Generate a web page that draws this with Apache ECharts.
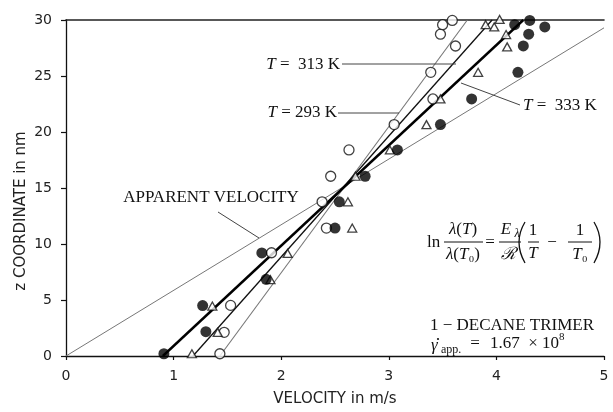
<!DOCTYPE html>
<html><head><meta charset="utf-8">
<script src="https://cdn.jsdelivr.net/npm/echarts@6/dist/echarts.min.js"></script>
<style>html,body{margin:0;padding:0;background:#fff}#c{width:613px;height:412px}</style>
</head><body><div id="c"></div>
<script>
// ---- data (velocity in m/s, z in nm) ----
const xTicks = [0, 1, 2, 3, 4, 5];
const yTicks = [0, 5, 10, 15, 20, 25, 30];

// T = 333 K (filled circles)
const filledV = [0.91, 1.30, 1.27, 1.86, 1.82, 2.50, 2.54, 2.78, 3.08, 3.48, 3.77, 4.20, 4.25, 4.30, 4.45, 4.31, 4.17];
const filledZ = [0.2, 2.17, 4.5, 6.85, 9.2, 11.42, 13.77, 16.05, 18.4, 20.66, 22.95, 25.33, 27.68, 28.73, 29.38, 29.96, 29.58];
// T = 293 K (open circles)
const openV = [1.43, 1.47, 1.53, 1.91, 2.42, 2.38, 2.46, 2.63, 3.05, 3.41, 3.39, 3.62, 3.48, 3.50, 3.59];
const openZ = [0.2, 2.11, 4.52, 9.22, 11.42, 13.77, 16.05, 18.4, 20.66, 22.95, 25.33, 27.68, 28.73, 29.58, 29.96];
// T = 313 K (triangles)
const triV = [1.17, 1.41, 1.36, 1.90, 2.06, 2.66, 2.62, 2.69, 3.01, 3.35, 3.48, 3.83, 4.10, 4.09, 3.98, 3.90, 4.03];
const triZ = [0.2, 2.11, 4.46, 6.81, 9.16, 11.42, 13.77, 16.05, 18.4, 20.66, 22.95, 25.33, 27.6, 28.7, 29.38, 29.58, 30.05];

// fitted lines
const fitZ = [0, 30];
const fit293V = [1.43, 3.73];
const fit313V = [1.18, 3.96];
const fit333V = [0.90, 4.25];
const apparentV = [0, 5];
const apparentZ = [0, 29.3];

const zip = (a, b) => a.map((v, i) => [v, b[i]]);
const SERIF = '"Liberation Serif", "DejaVu Serif", serif';
const SANS = '"DejaVu Sans", Verdana, sans-serif';

const chart = echarts.init(document.getElementById('c'), null, {renderer: 'canvas'});

function t(x, y, text, o) {
  o = o || {};
  return {
    type: 'text', x: x, y: y, z: 100,
    style: Object.assign({
      text: text, fill: '#111', fontSize: o.fs || 17, fontFamily: SERIF,
      fontStyle: o.it ? 'italic' : 'normal',
      align: o.align || 'left', verticalAlign: 'middle', rich: o.rich
    }, o.style || {})
  };
}
function ln(x1, y1, x2, y2, w, c) {
  return {type: 'line', z: 100, shape: {x1: x1, y1: y1, x2: x2, y2: y2},
    style: {stroke: c || '#444', lineWidth: w || 1}};
}
const rI = {i: {fontStyle: 'italic', fontSize: 17, fontFamily: SERIF, fill: '#111'},
            n: {fontSize: 17, fontFamily: SERIF, fill: '#111'}};

const graphics = [
  // y axis name
  {type: 'text', x: 21, y: 211, rotation: Math.PI / 2, z: 100,
   style: {text: 'z COORDINATE in nm', fontSize: 15, fontFamily: SANS, fill: '#222', align: 'center', verticalAlign: 'middle'}},
  // temperature labels + leaders
  t(340, 65, '{i|T}{n| =  313 K}', {align: 'right', rich: rI}),
  ln(342, 64, 456, 64),
  t(337, 113, '{i|T}{n| = 293 K}', {align: 'right', rich: rI}),
  ln(338, 113, 399, 113),
  t(523, 106, '{i|T}{n| =  333 K}', {rich: rI}),
  ln(461, 83, 520, 105),
  t(211, 198, 'APPARENT VELOCITY', {align: 'center'}),
  ln(218, 212, 259, 238),
  // formula
  t(427, 243, 'ln'),
  t(463, 230, '{i|λ}{n|(}{i|T}{n|)}', {align: 'center', rich: rI}),
  ln(444, 242, 483, 242, 1, '#111'),
  t(463, 255, '{i|λ}{n|(}{i|T}{n|₀)}', {align: 'center', rich: rI}),
  t(490, 243, '=', {align: 'center'}),
  t(506, 230, 'E', {align: 'center', it: true}),
  t(517, 234, 'λ', {align: 'center', it: true, fs: 12}),
  ln(499, 242, 521, 242, 1, '#111'),
  t(508, 255, 'ℛ', {align: 'center', it: true}),
  {type: 'bezierCurve', z: 100, shape: {x1: 525, y1: 222, cpx1: 513, cpy1: 242, x2: 525, y2: 263}, style: {stroke: '#111', lineWidth: 1.3, fill: null}},
  t(533, 231, '1', {align: 'center'}),
  ln(528, 242, 539, 242, 1, '#111'),
  t(533, 254, 'T', {align: 'center', it: true}),
  t(552, 243, '−', {align: 'center'}),
  t(580, 231, '1', {align: 'center'}),
  ln(568, 242, 592, 242, 1, '#111'),
  t(580, 255, '{i|T}{n|₀}', {align: 'center', rich: rI}),
  {type: 'bezierCurve', z: 100, shape: {x1: 594, y1: 222, cpx1: 606, cpy1: 242, x2: 594, y2: 263}, style: {stroke: '#111', lineWidth: 1.3, fill: null}},
  // sample annotation
  t(430, 326, '1 − DECANE TRIMER'),
  t(431, 346, 'γ', {it: true}),
  {type: 'circle', z: 100, shape: {cx: 438, cy: 339, r: 1.1}, style: {fill: '#111'}},
  t(441, 350, 'app.', {fs: 12}),
  t(475, 344, '=', {align: 'center'}),
  t(490, 344, '1.67'),
  t(533, 344, '×', {align: 'center'}),
  t(542, 344, '10'),
  t(559, 337, '8', {fs: 11})
];

const option = {
  animation: false,
  backgroundColor: '#fff',
  grid: {left: 66, top: 20, width: 538, height: 341},
  xAxis: [{
    type: 'value', min: xTicks[0], max: xTicks[xTicks.length - 1], interval: 1,
    axisLine: {show: true, onZero: false, lineStyle: {color: '#111', width: 1.3}},
    axisTick: {show: true, length: 4, lineStyle: {color: '#111', width: 1.2}},
    axisLabel: {color: '#222', fontSize: 14, fontFamily: SANS, margin: 13},
    splitLine: {show: false},
    name: 'VELOCITY in m/s', nameLocation: 'middle', nameGap: 36,
    nameTextStyle: {color: '#222', fontSize: 15, fontFamily: SANS}
  }, {
    type: 'value', position: 'top', min: 0, max: 5,
    axisLine: {show: true, onZero: false, lineStyle: {color: '#222', width: 1.6}},
    axisTick: {show: false}, axisLabel: {show: false}, splitLine: {show: false}
  }],
  yAxis: {
    type: 'value', min: yTicks[0], max: yTicks[yTicks.length - 1], interval: 5,
    axisLine: {show: true, onZero: false, lineStyle: {color: '#111', width: 1.3}},
    axisTick: {show: true, length: 5, lineStyle: {color: '#111', width: 1.2}},
    axisLabel: {color: '#222', fontSize: 14, fontFamily: SANS, margin: 14},
    splitLine: {show: false}
  },
  series: [
    {type: 'line', data: zip(apparentV, apparentZ), symbol: 'none', lineStyle: {color: '#777', width: 1}, z: 2},
    {type: 'line', data: zip(fit293V, fitZ), symbol: 'none', lineStyle: {color: '#777', width: 1.1}, z: 2},
    {type: 'line', data: zip(fit313V, fitZ), symbol: 'none', lineStyle: {color: '#111', width: 1.3}, z: 2},
    {type: 'line', data: zip(fit333V, fitZ), symbol: 'none', lineStyle: {color: '#000', width: 2.4}, z: 2},
    {type: 'scatter', data: zip(openV, openZ), symbol: 'circle', symbolSize: 10, clip: false,
     itemStyle: {color: '#fff', borderColor: '#111', borderWidth: 1.3}, z: 5},
    {type: 'scatter', data: zip(triV, triZ), symbol: 'triangle', symbolSize: [9, 8], clip: false,
     itemStyle: {color: '#fff', borderColor: '#111', borderWidth: 1.3}, z: 5},
    {type: 'scatter', data: zip(filledV, filledZ), symbol: 'circle', symbolSize: 11, clip: false,
     itemStyle: {color: '#000'}, z: 6}
  ],
  graphic: graphics
};
chart.setOption(option);
</script></body></html>
